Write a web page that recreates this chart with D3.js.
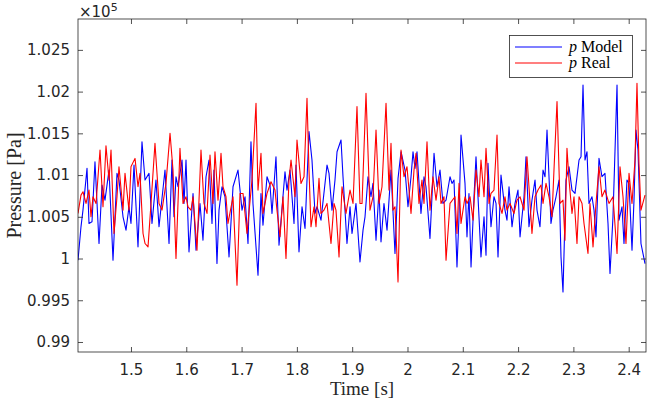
<!DOCTYPE html>
<html>
	<head>
		<meta charset="UTF-8">
		<title></title>
		<script src="https://cdn.jsdelivr.net/npm/d3@7/dist/d3.min.js" type="text/javascript" charset="utf-8"></script>
		<style type="text/css">
			*{
				margin: 0;
				padding: 0;
			}
			body{
				background: #fff;
			}
			#mychart{
				width: 654px;
				height: 400px;
			}
		</style>
	</head>
	<body>
		<div id="mychart"></div>
	</body>
</html>
<script type="text/javascript">
	// model series (blue), time in s, pressure in Pa
	var modelTime = [
		1.4042,1.4096,1.4132,1.4205,1.4241,1.4295,1.4349,1.4422,1.4476,1.4530,
		1.4603,1.4675,1.4747,1.4783,1.4856,1.4910,1.4964,1.5000,1.5055,1.5127,
		1.5199,1.5254,1.5326,1.5380,1.5452,1.5507,1.5615,1.5688,1.5742,1.5778,
		1.5814,1.5850,1.5923,1.5959,1.5995,1.6049,1.6122,1.6176,1.6248,1.6302,
		1.6357,1.6411,1.6465,1.6501,1.6555,1.6592,1.6646,1.6700,1.6773,1.6845,
		1.6935,1.7008,1.7062,1.7116,1.7170,1.7206,1.7297,1.7351,1.7387,1.7460,
		1.7514,1.7550,1.7622,1.7677,1.7785,1.7821,1.7876,1.7948,1.7984,1.8038,
		1.8093,1.8147,1.8219,1.8273,1.8328,1.8364,1.8436,1.8545,1.8581,1.8635,
		1.8689,1.8726,1.8798,1.8834,1.8906,1.8961,1.8997,1.9069,1.9141,1.9196,
		1.9232,1.9286,1.9340,1.9376,1.9431,1.9485,1.9521,1.9575,1.9630,1.9702,
		1.9774,1.9829,1.9883,1.9955,2.0009,2.0064,2.0100,2.0136,2.0172,2.0244,
		2.0299,2.0335,2.0407,2.0480,2.0534,2.0588,2.0642,2.0697,2.0769,2.0805,
		2.0841,2.0895,2.0932,2.0968,2.1040,2.1076,2.1112,2.1149,2.1203,2.1239,
		2.1293,2.1329,2.1384,2.1420,2.1456,2.1510,2.1564,2.1601,2.1637,2.1691,
		2.1763,2.1799,2.1836,2.1890,2.1944,2.1998,2.2035,2.2107,2.2143,2.2197,
		2.2251,2.2306,2.2342,2.2396,2.2451,2.2487,2.2523,2.2595,2.2631,2.2686,
		2.2740,2.2776,2.2812,2.2866,2.2921,2.2975,2.3029,2.3102,2.3138,2.3174,
		2.3210,2.3246,2.3282,2.3336,2.3373,2.3409,2.3463,2.3517,2.3571,2.3626,
		2.3662,2.3716,2.3789,2.3825,2.3879,2.3915,2.3969,2.4006,2.4060,2.4096,
		2.4132,2.4168,2.4222,2.4295
	];
	var modelPressure = [
		99980,100380,100580,101080,100420,100440,101160,100180,100880,100700,
		101060,99980,101020,100940,100500,100340,100620,100420,101120,100140,
		101400,100940,101020,100420,100940,100380,101060,100180,101180,100500,
		100980,100860,101180,100660,101180,100080,100780,100100,100660,100220,
		100980,101180,100420,101060,99940,100580,100860,100740,100020,100860,
		101060,100580,100740,100180,101400,100660,99800,100780,100400,100980,
		100880,100540,101220,100160,101040,100820,101060,100420,101120,100080,
		100620,100360,101520,101180,100540,100620,100460,101120,101020,100580,
		100940,101280,101420,100980,100180,100620,100300,100660,99960,100340,
		100500,100980,100740,100900,100220,100820,100200,100660,100340,101060,
		100060,100960,101280,101060,100620,100980,101280,101080,101280,100540,
		100980,100860,100240,101260,100860,101060,100660,100700,100980,100900,
		100940,99900,100500,101480,100900,100260,100780,99900,100740,101220,
		100500,100020,100500,100040,101140,100380,100740,100660,100020,101000,
		100580,100460,100860,100380,100660,100820,100260,100740,101220,100380,
		100700,100940,100580,100380,101060,100980,101540,100420,100580,100740,
		100940,100020,99600,100940,101100,100820,100780,101180,101220,102080,
		101180,101280,100660,100740,100580,100260,101200,100980,101020,100420,
		99820,100500,102080,100460,100620,100180,100940,100900,100100,100700,
		101540,101300,100180,99940
	];
	// measured series (red)
	var realTime = [
		1.4042,1.4096,1.4132,1.4187,1.4241,1.4277,1.4313,1.4368,1.4440,1.4494,
		1.4548,1.4603,1.4639,1.4693,1.4747,1.4783,1.4856,1.4892,1.4964,1.5000,
		1.5073,1.5127,1.5163,1.5218,1.5254,1.5308,1.5362,1.5434,1.5507,1.5561,
		1.5633,1.5706,1.5760,1.5814,1.5886,1.5941,1.5995,1.6031,1.6085,1.6122,
		1.6194,1.6266,1.6320,1.6375,1.6429,1.6483,1.6519,1.6574,1.6628,1.6664,
		1.6718,1.6754,1.6845,1.6917,1.6971,1.7026,1.7098,1.7188,1.7261,1.7297,
		1.7351,1.7387,1.7460,1.7532,1.7604,1.7640,1.7695,1.7749,1.7803,1.7857,
		1.7894,1.7966,1.8002,1.8074,1.8129,1.8183,1.8219,1.8255,1.8310,1.8346,
		1.8400,1.8436,1.8490,1.8545,1.8617,1.8671,1.8707,1.8762,1.8816,1.8888,
		1.8961,1.9015,1.9087,1.9141,1.9178,1.9250,1.9322,1.9376,1.9431,1.9485,
		1.9539,1.9612,1.9666,1.9702,1.9738,1.9774,1.9829,1.9883,1.9937,1.9991,
		2.0064,2.0118,2.0154,2.0208,2.0262,2.0299,2.0353,2.0407,2.0461,2.0516,
		2.0570,2.0606,2.0660,2.0697,2.0769,2.0859,2.0895,2.0932,2.0968,2.1040,
		2.1076,2.1131,2.1185,2.1239,2.1293,2.1329,2.1384,2.1420,2.1474,2.1510,
		2.1564,2.1619,2.1655,2.1709,2.1763,2.1799,2.1854,2.1926,2.1980,2.2035,
		2.2107,2.2161,2.2197,2.2251,2.2306,2.2360,2.2414,2.2451,2.2505,2.2559,
		2.2613,2.2649,2.2704,2.2758,2.2812,2.2848,2.2884,2.2921,2.2975,2.3011,
		2.3065,2.3102,2.3156,2.3192,2.3264,2.3300,2.3355,2.3409,2.3463,2.3517,
		2.3571,2.3644,2.3716,2.3789,2.3843,2.3897,2.3951,2.4006,2.4060,2.4114,
		2.4150,2.4186,2.4222,2.4295
	];
	var realPressure = [
		100540,100760,100800,100660,100820,100500,100740,100660,101300,100620,
		101350,100940,101300,100300,100740,101100,100580,101020,100580,101100,
		101200,100860,101020,100300,100180,100140,100660,101380,100660,100580,
		100900,101500,101060,100000,101320,100660,100740,100620,100580,100740,
		100100,101300,100660,100540,101240,100660,101280,100700,101260,100860,
		100740,100420,100740,99680,100780,100780,100300,100940,101860,100820,
		101260,100540,100780,100920,100820,100580,100260,100740,100000,100940,
		101180,100740,101420,100900,100980,101920,101060,100380,100620,100380,
		100960,100540,100580,100660,100180,100660,100580,100020,100860,100540,
		100820,100660,101820,100660,100660,101980,100580,100740,101540,100660,
		100860,101860,100820,101380,100580,100620,99720,101300,100980,101100,
		100540,101060,101260,100660,100940,100660,101400,100580,100980,100700,
		100980,100660,100740,99980,100660,100740,100300,100900,100420,100740,
		100660,100740,100460,101060,100740,101180,100740,101320,100660,100780,
		100820,101480,100660,100540,100740,100580,100660,100540,100700,100740,
		100580,101220,100860,100300,100740,100820,100880,100660,100900,100740,
		100500,101060,101880,100660,100700,100220,101320,100940,100540,100740,
		100180,100740,100660,100420,100060,100660,100140,100660,101100,100740,
		100820,100660,100740,100060,101100,100740,100180,101020,100660,101180,
		102100,101140,100580,100760
	];
	var xTicks = [1.5,1.6,1.7,1.8,1.9,2,2.1,2.2,2.3,2.4];
	var yTicks = [99000,99500,100000,100500,101000,101500,102000,102500];
	var yTickLabels = ["0.99","0.995","1","1.005","1.01","1.015","1.02","1.025"];
	var seriesNames = ["Model","Real"];
	var seriesColors = ["#0000ff","#ff0000"];

	drawPressure("mychart");

	function drawPressure(divId){
		var _divW = 654;
		var _divH = 400;
		// plot box
		var _box = {left: 78, right: 646, top: 19, bottom: 352};
		var _axisColor = "#262626";

		var _svg = d3.select("#" + divId)
			.append("svg")
			.attr("width",_divW)
			.attr("height",_divH)
			.style("display","block");

		var _xscale = d3.scaleLinear()
			.domain([1.4042,2.4313])
			.range([_box.left,_box.right]);
		var _yscale = d3.scaleLinear()
			.domain([98880,102870])
			.range([_box.bottom,_box.top]);

		// data lines, model first so real sits on top
		var _seriesList = [
			{time: modelTime, p: modelPressure, color: seriesColors[0]},
			{time: realTime, p: realPressure, color: seriesColors[1]}
		];
		var _line = d3.line()
			.x(function(d){ return _xscale(d[0]); })
			.y(function(d){ return _yscale(d[1]); });

		_svg.append("defs")
			.append("clipPath")
			.attr("id","plotclip")
			.append("rect")
			.attr("x",_box.left)
			.attr("y",_box.top)
			.attr("width",_box.right - _box.left)
			.attr("height",_box.bottom - _box.top);

		var _gLines = _svg.append("g").attr("clip-path","url(#plotclip)");
		_seriesList.forEach(function(s){
			var pts = s.time.map(function(t,i){ return [t, s.p[i]]; });
			_gLines.append("path")
				.attr("d",_line(pts))
				.attr("fill","none")
				.attr("stroke",s.color)
				.attr("stroke-width",1.1)
				.attr("stroke-linejoin","round");
		});

		// axes, ticks pointing inward like matlab
		var _gx = _svg.append("g")
			.attr("transform","translate(0," + _box.bottom + ")")
			.call(d3.axisBottom(_xscale).tickValues(xTicks).tickSizeInner(-5).tickSizeOuter(0).tickPadding(12)
				.tickFormat(function(d){ return d3.format("")(d); }));
		var _gxTop = _svg.append("g")
			.attr("transform","translate(0," + _box.top + ")")
			.call(d3.axisTop(_xscale).tickValues(xTicks).tickSizeInner(-5).tickSizeOuter(0).tickFormat(""));
		var _gy = _svg.append("g")
			.attr("transform","translate(" + _box.left + ",0)")
			.call(d3.axisLeft(_yscale).tickValues(yTicks).tickSizeInner(-5).tickSizeOuter(0).tickPadding(8)
				.tickFormat(function(d,i){ return yTickLabels[i]; }));
		var _gyRight = _svg.append("g")
			.attr("transform","translate(" + _box.right + ",0)")
			.call(d3.axisRight(_yscale).tickValues(yTicks).tickSizeInner(-5).tickSizeOuter(0).tickFormat(""));

		[_gx,_gxTop,_gy,_gyRight].forEach(function(g){
			g.select(".domain").remove();
			g.selectAll("line").attr("stroke",_axisColor).attr("stroke-width",0.8);
			g.selectAll("text")
				.attr("fill",_axisColor)
				.style("font-family","'DejaVu Sans', sans-serif")
				.style("font-size","15px");
		});

		_svg.append("rect")
			.attr("x",_box.left)
			.attr("y",_box.top)
			.attr("width",_box.right - _box.left)
			.attr("height",_box.bottom - _box.top)
			.attr("fill","none")
			.attr("stroke",_axisColor)
			.attr("stroke-width",0.8);

		// exponent label
		var _exp = _svg.append("text")
			.attr("x",_box.left + 1)
			.attr("y",_box.top - 2)
			.attr("fill",_axisColor)
			.style("font-family","'DejaVu Sans', sans-serif")
			.style("font-size","15px");
		_exp.append("tspan").text("×10");
		_exp.append("tspan").attr("dy",-6).style("font-size","11px").text("5");

		// axis titles
		_svg.append("text")
			.attr("x",(_box.left + _box.right) / 2)
			.attr("y",395)
			.attr("text-anchor","middle")
			.attr("fill",_axisColor)
			.style("font-family","'Liberation Serif', serif")
			.style("font-size","19px")
			.text("Time [s]");
		_svg.append("text")
			.attr("transform","translate(21," + (_box.top + _box.bottom) / 2 + ") rotate(-90)")
			.attr("text-anchor","middle")
			.attr("fill",_axisColor)
			.style("font-family","'Liberation Serif', serif")
			.style("font-size","20px")
			.text("Pressure [Pa]");

		// legend
		var _leg = {x: 509, y: 35, w: 123, h: 42};
		var _gLeg = _svg.append("g");
		_gLeg.append("rect")
			.attr("x",_leg.x + 0.5)
			.attr("y",_leg.y + 0.5)
			.attr("width",_leg.w)
			.attr("height",_leg.h)
			.attr("fill","#fff")
			.attr("stroke",_axisColor)
			.attr("stroke-width",0.8);
		seriesNames.forEach(function(name,i){
			var ly = _leg.y + 12 + i * 16;
			_gLeg.append("line")
				.attr("x1",_leg.x + 6)
				.attr("x2",_leg.x + 53)
				.attr("y1",ly)
				.attr("y2",ly)
				.attr("stroke",seriesColors[i])
				.attr("stroke-width",1.2);
			var t = _gLeg.append("text")
				.attr("x",_leg.x + 60)
				.attr("y",ly + 5)
				.attr("fill","#000")
				.style("font-family","'Liberation Serif', serif")
				.style("font-size","16px");
			t.append("tspan").style("font-style","italic").text("p");
			t.append("tspan").text(" " + name);
		});
	}
</script>
